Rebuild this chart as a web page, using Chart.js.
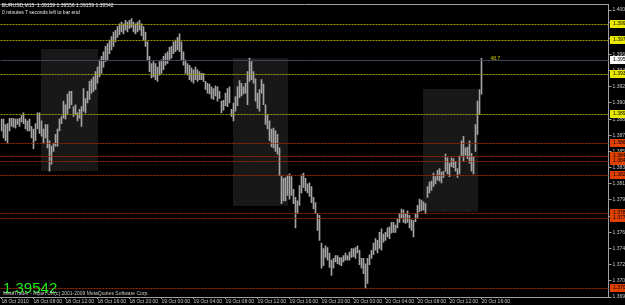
<!DOCTYPE html>
<html>
<head>
<meta charset="utf-8">
<script src="https://cdn.jsdelivr.net/npm/chart.js@4.4.1/dist/chart.umd.min.js"></script>
<style>
  html, body { margin: 0; padding: 0; background: #000; }
  #wrap { width: 625px; height: 305px; }
</style>
</head>
<body>
<div id="wrap"><canvas id="eurusd" width="625" height="305"></canvas></div>
<script>
// EURUSD M15, one bar every 15 minutes starting 18 Oct 2010 04:00
var timeLabels = ['18 Oct 2010', '18 Oct 08:00', '18 Oct 12:00', '18 Oct 16:00', '18 Oct 20:00',
    '19 Oct 00:00', '19 Oct 04:00', '19 Oct 08:00', '19 Oct 12:00', '19 Oct 16:00', '19 Oct 20:00',
    '20 Oct 00:00', '20 Oct 04:00', '20 Oct 08:00', '20 Oct 12:00', '20 Oct 16:00'];
var barsPerLabel = 16;
var slots = 304; // chart is shifted, empty space on the right

var highs = [
    1.3888, 1.3888, 1.3882, 1.3883, 1.3889, 1.3889, 1.3889, 1.3888, 1.3888, 1.3889,
    1.3892, 1.3895, 1.3888, 1.3886, 1.3888, 1.3880, 1.3877, 1.3883, 1.3895, 1.3895,
    1.3886, 1.3877, 1.3882, 1.3882, 1.3864, 1.3858, 1.3861, 1.3871, 1.3877, 1.3888,
    1.3891, 1.3908, 1.3904, 1.3916, 1.3919, 1.3919, 1.3902, 1.3904, 1.3895, 1.3899,
    1.3902, 1.3922, 1.3911, 1.3919, 1.3930, 1.3932, 1.3935, 1.3941, 1.3946, 1.3954,
    1.3958, 1.3963, 1.3969, 1.3972, 1.3976, 1.3980, 1.3985, 1.3987, 1.3991, 1.3994,
    1.3996, 1.3994, 1.3998, 1.3996, 1.3998, 1.4000, 1.3996, 1.3994, 1.3996, 1.3998,
    1.3994, 1.3991, 1.3985, 1.3974, 1.3958, 1.3950, 1.3952, 1.3950, 1.3946, 1.3952,
    1.3954, 1.3958, 1.3961, 1.3963, 1.3968, 1.3969, 1.3974, 1.3976, 1.3979, 1.3983,
    1.3974, 1.3963, 1.3954, 1.3950, 1.3948, 1.3945, 1.3943, 1.3946, 1.3943, 1.3941,
    1.3939, 1.3939, 1.3930, 1.3928, 1.3927, 1.3924, 1.3922, 1.3925, 1.3924, 1.3919,
    1.3908, 1.3909, 1.3917, 1.3922, 1.3924, 1.3899, 1.3906, 1.3913, 1.3924, 1.3931,
    1.3928, 1.3924, 1.3928, 1.3941, 1.3956, 1.3952, 1.3941, 1.3933, 1.3917, 1.3921,
    1.3932, 1.3927, 1.3904, 1.3893, 1.3886, 1.3877, 1.3878, 1.3875, 1.3871, 1.3856,
    1.3825, 1.3822, 1.3823, 1.3825, 1.3827, 1.3824, 1.3810, 1.3801, 1.3797, 1.3814,
    1.3826, 1.3828, 1.3822, 1.3816, 1.3817, 1.3813, 1.3801, 1.3795, 1.3783, 1.3781,
    1.3750, 1.3744, 1.3747, 1.3745, 1.3739, 1.3731, 1.3733, 1.3736, 1.3736, 1.3734,
    1.3734, 1.3736, 1.3739, 1.3736, 1.3740, 1.3744, 1.3744, 1.3745, 1.3747, 1.3742,
    1.3733, 1.3733, 1.3727, 1.3733, 1.3737, 1.3742, 1.3750, 1.3755, 1.3753, 1.3762,
    1.3766, 1.3760, 1.3762, 1.3767, 1.3768, 1.3773, 1.3773, 1.3770, 1.3777, 1.3783,
    1.3788, 1.3787, 1.3783, 1.3786, 1.3781, 1.3776, 1.3775, 1.3783, 1.3792, 1.3799,
    1.3798, 1.3796, 1.3794, 1.3813, 1.3818, 1.3819, 1.3828, 1.3824, 1.3831, 1.3833,
    1.3829, 1.3830, 1.3849, 1.3845, 1.3839, 1.3845, 1.3844, 1.3841, 1.3833, 1.3847,
    1.3864, 1.3869, 1.3856, 1.3857, 1.3864, 1.3850, 1.3846, 1.3882, 1.3908, 1.3921,
    1.39556
];
var lows = [
    1.3875, 1.3867, 1.3864, 1.3861, 1.3875, 1.3880, 1.3879, 1.3878, 1.3882, 1.3880,
    1.3885, 1.3883, 1.3877, 1.3875, 1.3875, 1.3867, 1.3855, 1.3864, 1.3877, 1.3872,
    1.3869, 1.3861, 1.3867, 1.3856, 1.3830, 1.3838, 1.3852, 1.3858, 1.3858, 1.3875,
    1.3883, 1.3889, 1.3888, 1.3893, 1.3900, 1.3904, 1.3891, 1.3893, 1.3886, 1.3889,
    1.3880, 1.3897, 1.3895, 1.3906, 1.3910, 1.3917, 1.3919, 1.3921, 1.3928, 1.3935,
    1.3939, 1.3946, 1.3952, 1.3954, 1.3961, 1.3965, 1.3969, 1.3974, 1.3979, 1.3982,
    1.3985, 1.3983, 1.3987, 1.3985, 1.3989, 1.3990, 1.3985, 1.3983, 1.3985, 1.3987,
    1.3981, 1.3976, 1.3969, 1.3954, 1.3941, 1.3934, 1.3935, 1.3932, 1.3930, 1.3937,
    1.3939, 1.3943, 1.3948, 1.3950, 1.3954, 1.3956, 1.3961, 1.3963, 1.3965, 1.3963,
    1.3954, 1.3948, 1.3939, 1.3937, 1.3932, 1.3930, 1.3928, 1.3932, 1.3930, 1.3932,
    1.3932, 1.3930, 1.3921, 1.3917, 1.3916, 1.3911, 1.3910, 1.3914, 1.3908, 1.3911,
    1.3895, 1.3898, 1.3903, 1.3902, 1.3906, 1.3891, 1.3886, 1.3897, 1.3903, 1.3912,
    1.3914, 1.3916, 1.3917, 1.3904, 1.3930, 1.3932, 1.3928, 1.3908, 1.3900, 1.3897,
    1.3917, 1.3904, 1.3882, 1.3877, 1.3864, 1.3857, 1.3856, 1.3852, 1.3849, 1.3825,
    1.3794, 1.3797, 1.3797, 1.3803, 1.3799, 1.3803, 1.3794, 1.3767, 1.3783, 1.3792,
    1.3806, 1.3812, 1.3808, 1.3806, 1.3802, 1.3795, 1.3788, 1.3783, 1.3764, 1.3753,
    1.3722, 1.3725, 1.3734, 1.3731, 1.3723, 1.3714, 1.3722, 1.3729, 1.3727, 1.3726,
    1.3725, 1.3729, 1.3731, 1.3731, 1.3731, 1.3734, 1.3735, 1.3733, 1.3739, 1.3726,
    1.3722, 1.3716, 1.3700, 1.3705, 1.3726, 1.3733, 1.3737, 1.3742, 1.3739, 1.3744,
    1.3742, 1.3751, 1.3753, 1.3757, 1.3755, 1.3761, 1.3762, 1.3762, 1.3767, 1.3773,
    1.3778, 1.3773, 1.3772, 1.3773, 1.3767, 1.3764, 1.3757, 1.3774, 1.3778, 1.3785,
    1.3786, 1.3787, 1.3783, 1.3801, 1.3806, 1.3809, 1.3813, 1.3816, 1.3820, 1.3819,
    1.3817, 1.3823, 1.3830, 1.3827, 1.3824, 1.3835, 1.3834, 1.3830, 1.3823, 1.3827,
    1.3847, 1.3841, 1.3848, 1.3844, 1.3839, 1.3830, 1.3827, 1.3852, 1.3871, 1.3893,
    1.39159
];

var priceTicks = [1.40095, 1.39960, 1.39780, 1.39600, 1.39420, 1.39240, 1.39060, 1.38880,
    1.38700, 1.38520, 1.38340, 1.38160, 1.37980, 1.37800, 1.37620, 1.37440, 1.37260,
    1.37080, 1.36900];
var priceMin = 1.36900;
var priceMax = 1.40162;

var yellowLevels = [1.39941, 1.39764, 1.39388, 1.38934];
var redLevels = [1.38614, 1.38470, 1.38414, 1.38260, 1.37839, 1.37784, 1.37000];
var bidPrice = 1.39542;

// session boxes: bar index range and price range
var zoneStart = [20, 116, 211];
var zoneEnd = [48, 143, 238];
var zoneTop = [1.39664, 1.39565, 1.39211];
var zoneBottom = [1.38304, 1.37917, 1.37839];

var headerText = 'EURUSD,M15  1.39159 1.39556 1.39159 1.39542';
var timerText = '0 minutes 7 seconds left to bar end';
var copyText = 'MetaTrader - Alpari UK(c) 2001-2009 MetaQuotes Software Corp.';
var pipsText = '48.7';

var labels = [];
for (var i = 0; i < slots; i++) {
    var k = i / barsPerLabel;
    labels.push(i % barsPerLabel === 0 && k < timeLabels.length ? timeLabels[k] : '');
}
var bars = highs.map(function (h, i) { return [lows[i], h]; });

var smallFont = '5px "Liberation Sans"';

var mtObjects = {
    id: 'mtObjects',
    beforeDatasetsDraw: function (chart) {
        var ctx = chart.ctx, xs = chart.scales.x, ys = chart.scales.y;
        ctx.save();
        ctx.fillStyle = '#181818';
        for (var z = 0; z < zoneStart.length; z++) {
            var x0 = xs.getPixelForValue(zoneStart[z]) - 0.5;
            var x1 = xs.getPixelForValue(zoneEnd[z]) + 0.5;
            var y0 = ys.getPixelForValue(zoneTop[z]);
            var y1 = ys.getPixelForValue(zoneBottom[z]);
            ctx.fillRect(Math.round(x0), Math.round(y0), Math.round(x1 - x0), Math.round(y1 - y0));
        }
        ctx.restore();
    },
    afterDatasetsDraw: function (chart) {
        var ctx = chart.ctx, ys = chart.scales.y, a = chart.chartArea;
        ctx.save();
        ctx.lineWidth = 1;
        function level(p, color, dash) {
            var y = Math.round(ys.getPixelForValue(p)) + 0.5;
            ctx.strokeStyle = color;
            ctx.setLineDash(dash);
            ctx.beginPath();
            ctx.moveTo(a.left, y);
            ctx.lineTo(a.right, y);
            ctx.stroke();
        }
        level(bidPrice, '#3a4652', []);
        yellowLevels.forEach(function (p) { level(p, '#9c9c00', [2, 1]); });
        redLevels.forEach(function (p) { level(p, '#a02806', [2, 1]); });
        ctx.restore();
    },
    afterDraw: function (chart) {
        var ctx = chart.ctx, ys = chart.scales.y, xs = chart.scales.x, a = chart.chartArea;
        ctx.save();
        // frame top
        ctx.strokeStyle = '#a0a0a0';
        ctx.lineWidth = 1;
        ctx.beginPath();
        ctx.moveTo(a.left, Math.round(a.top) + 0.5);
        ctx.lineTo(a.right, Math.round(a.top) + 0.5);
        ctx.stroke();

        // price labels for the lines on the right scale
        ctx.font = smallFont;
        ctx.textBaseline = 'middle';
        function tag(p, bg) {
            var y = Math.round(ys.getPixelForValue(p));
            ctx.fillStyle = bg;
            ctx.fillRect(Math.round(a.right) + 1, y - 4, 625, 8);
            ctx.fillStyle = '#000';
            ctx.fillText(p.toFixed(5), Math.round(a.right) + 4, y);
        }
        yellowLevels.forEach(function (p) { tag(p, '#e8e800'); });
        redLevels.forEach(function (p) { tag(p, '#e04000'); });
        tag(bidPrice, '#ffffff');

        // texts
        ctx.textBaseline = 'top';
        ctx.fillStyle = '#e8e8e8';
        ctx.fillText(headerText, 2, 3);
        ctx.fillText(timerText, 2, 10);

        ctx.fillStyle = '#c8c800';
        ctx.textBaseline = 'middle';
        ctx.fillText(pipsText, xs.getPixelForValue(highs.length - 1) + 9, ys.getPixelForValue(bidPrice) - 1);

        ctx.font = '15px "Liberation Sans"';
        ctx.textBaseline = 'alphabetic';
        ctx.fillStyle = '#20e820';
        ctx.fillText(bidPrice.toFixed(5), 3, 293);

        ctx.font = smallFont;
        ctx.textBaseline = 'top';
        ctx.fillStyle = '#c8c8c8';
        ctx.fillText(copyText, 3, 291);
        ctx.restore();
    }
};

var chart = new Chart(document.getElementById('eurusd').getContext('2d'), {
    type: 'bar',
    data: {
        labels: labels,
        datasets: [{
            data: bars,
            backgroundColor: '#a4a4a4',
            borderWidth: 0,
            barThickness: 1
        }]
    },
    plugins: [mtObjects],
    options: {
        responsive: false,
        devicePixelRatio: 1,
        animation: false,
        events: [],
        layout: { padding: { left: 0.5, top: 2, right: 0, bottom: 0 } },
        plugins: {
            legend: { display: false },
            tooltip: { enabled: false }
        },
        scales: {
            x: {
                type: 'category',
                afterFit: function (s) { s.height = 8; },
                border: { display: true, color: '#a0a0a0' },
                grid: {
                    drawOnChartArea: false,
                    tickLength: 2,
                    offset: false,
                    color: function (c) {
                        return (c.index % barsPerLabel === 0 && c.index < highs.length) ? '#b0b0b0' : 'rgba(0,0,0,0)';
                    }
                },
                ticks: {
                    autoSkip: false,
                    maxRotation: 0,
                    minRotation: 0,
                    align: 'start',
                    padding: 0,
                    color: '#c8c8c8',
                    font: { family: 'Liberation Sans', size: 5 }
                }
            },
            y: {
                position: 'right',
                min: priceMin,
                max: priceMax,
                afterFit: function (s) { s.width = 16.5; },
                afterBuildTicks: function (s) {
                    s.ticks = priceTicks.map(function (v) { return { value: v }; });
                },
                border: { display: true, color: '#a0a0a0' },
                grid: { drawOnChartArea: false, tickLength: 3, color: '#a0a0a0' },
                ticks: {
                    padding: 1,
                    color: '#c8c8c8',
                    font: { family: 'Liberation Sans', size: 5 },
                    callback: function (v) { return v.toFixed(5); }
                }
            }
        }
    }
});
</script>
</body>
</html>
